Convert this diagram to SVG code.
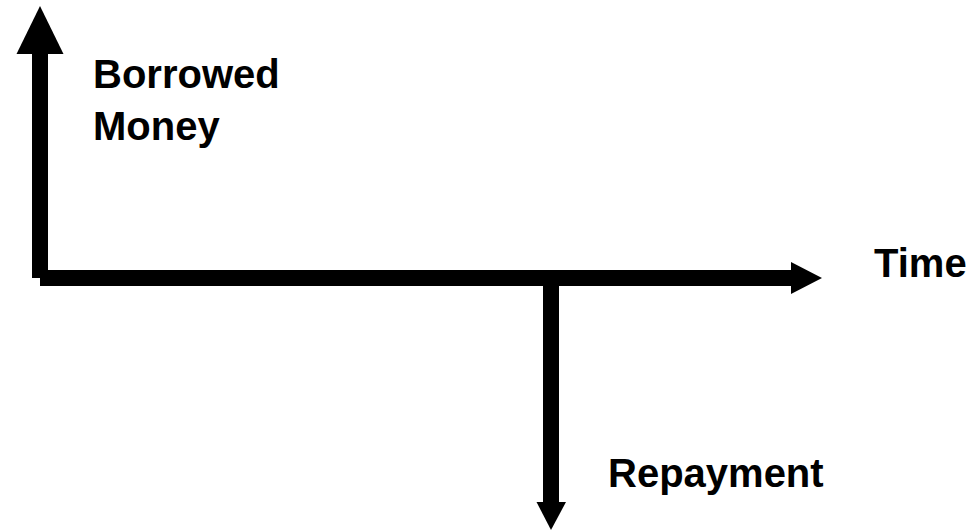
<svg xmlns="http://www.w3.org/2000/svg" width="977" height="531" viewBox="0 0 977 531">
<style>
.ax{stroke:#000;stroke-width:16;fill:none}
.hd{fill:#000}
.lb{font-family:"Liberation Sans",Arial,sans-serif;font-weight:bold;font-size:40px;fill:#000}
</style>
<rect width="977" height="531" fill="#fff"/>
<g id="connectors">
<path class="ax" d="M40,278 V53"/>
<polygon class="hd" points="40,6 63.5,54 16.5,54"/>
<path class="ax" d="M40,278 H792"/>
<polygon class="hd" points="822,278 791,262 791,294"/>
<path class="ax" d="M551,278 V503"/>
<polygon class="hd" points="551,530 536.5,502 566,502"/>
</g>
<g id="borrowed"><text class="lb" x="93" y="88">Borrowed</text><text class="lb" x="93" y="140">Money</text></g>
<g id="time"><text class="lb" x="874" y="277">Time</text></g>
<g id="repayment"><text class="lb" x="608" y="487">Repayment</text></g>
</svg>
